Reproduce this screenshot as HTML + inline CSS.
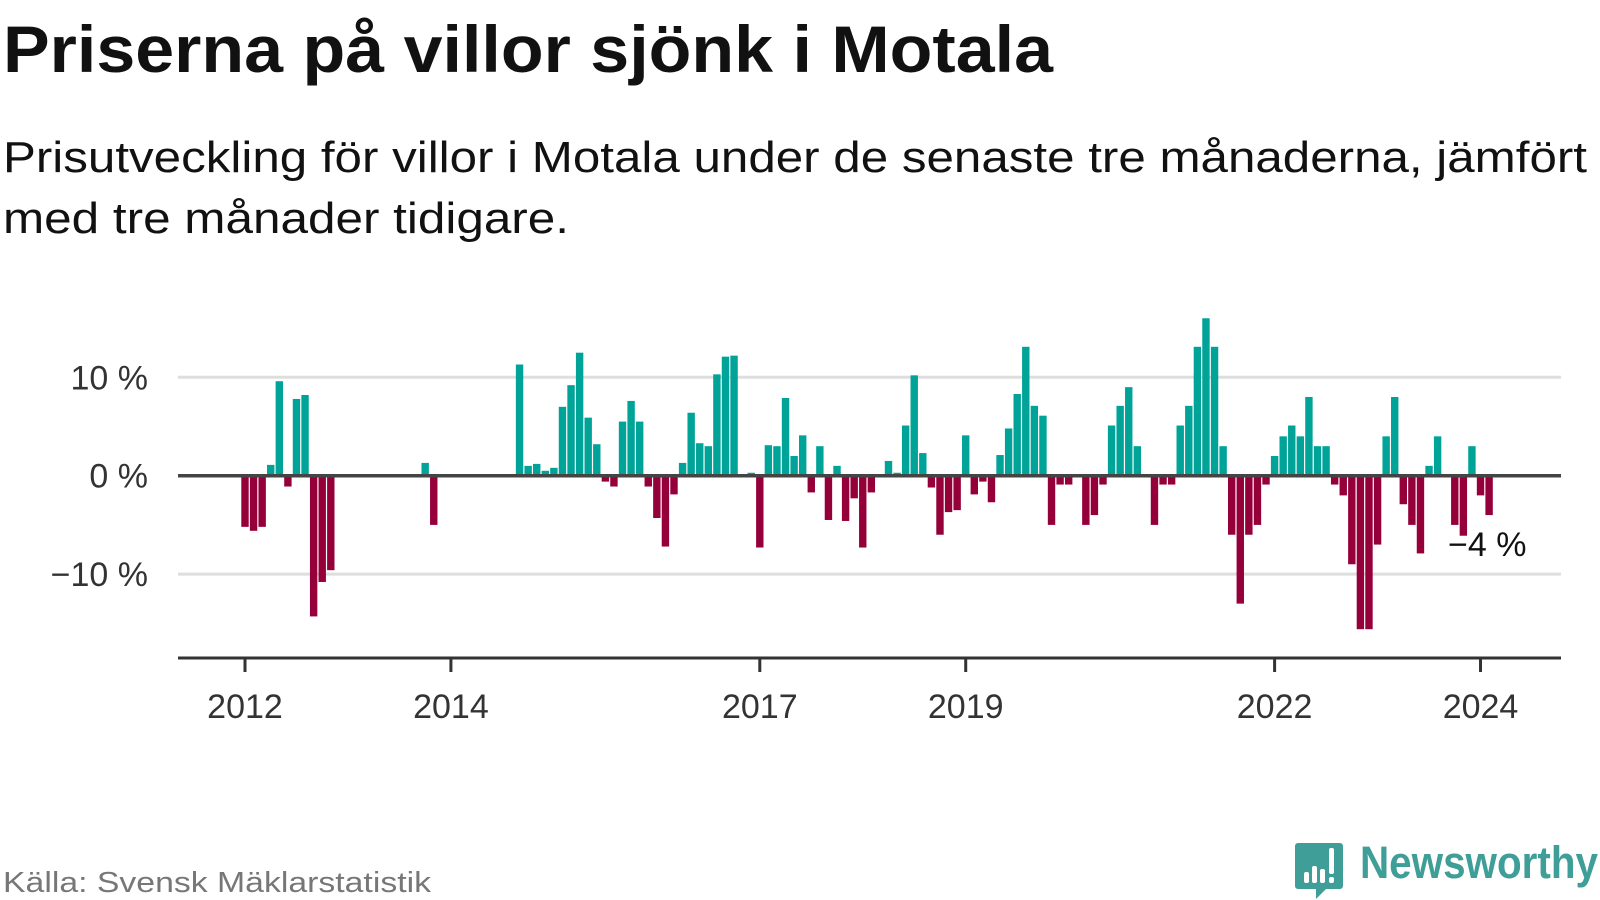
<!DOCTYPE html>
<html><head><meta charset="utf-8">
<style>
html,body{margin:0;padding:0;background:#fff;}
svg{display:block;font-family:"Liberation Sans",sans-serif;}
</style></head>
<body>
<svg id="chart" width="1600" height="900" viewBox="0 0 1600 900">
  <text x="3" y="72" font-size="66" font-weight="bold" fill="#111" textLength="1050" lengthAdjust="spacingAndGlyphs">Priserna på villor sjönk i Motala</text>
  <text x="3" y="172" font-size="44" fill="#111" textLength="1584" lengthAdjust="spacingAndGlyphs">Prisutveckling för villor i Motala under de senaste tre månaderna, jämfört</text>
  <text x="3" y="233" font-size="44" fill="#111" textLength="566" lengthAdjust="spacingAndGlyphs">med tre månader tidigare.</text>
  <g id="grid"></g>
  <g id="yaxis"></g>
  <g id="bars"></g>
  <g id="xaxis"></g>
  <text x="1448" y="556" font-size="34" fill="#111">−4 %</text>
  <text x="3" y="892" font-size="29" fill="#777" textLength="428" lengthAdjust="spacingAndGlyphs">Källa: Svensk Mäklarstatistik</text>
  <g>
    <path d="M1298 843 h42 a3 3 0 0 1 3 3 v40 a3 3 0 0 1 -3 3 h-14 l-10 10 v-10 h-18 a3 3 0 0 1 -3 -3 v-40 a3 3 0 0 1 3 -3z" fill="#3f9e97"/>
    <rect x="1304" y="872" width="5" height="11" rx="2" fill="#fff"/>
    <rect x="1312" y="866" width="5" height="17" rx="2" fill="#fff"/>
    <rect x="1320" y="869" width="5" height="14" rx="2" fill="#fff"/>
    <rect x="1329" y="848" width="5" height="26" rx="2" fill="#fff"/>
    <rect x="1329" y="877" width="5" height="6" rx="2" fill="#fff"/>
    <text x="1360" y="878" font-size="45" font-weight="bold" fill="#3f9e97" textLength="238" lengthAdjust="spacingAndGlyphs">Newsworthy</text>
  </g>
</svg>
<script>
// Monthly values (%), starting Jan 2012; null = no data
const values = [
-5.2,-5.6,-5.2,1.1,9.6,-1.1,7.8,8.2,-14.3,-10.8,-9.6,
null,null,null,null,null,null,null,null,null,null,
1.3,-5.0,
null,null,null,null,null,null,null,null,null,
11.3,1.0,1.2,0.5,0.8,7.0,9.2,12.5,5.9,3.2,-0.6,-1.1,5.5,7.6,5.5,-1.1,-4.3,-7.2,-1.9,1.3,6.4,3.3,3.0,10.3,12.1,12.2,null,0.3,-7.3,3.1,3.0,7.9,2.0,4.1,-1.7,3.0,-4.5,1.0,-4.6,-2.3,-7.3,-1.7,null,1.5,0.3,5.1,10.2,2.3,-1.2,-6.0,-3.7,-3.5,4.1,-1.9,-0.6,-2.7,2.1,4.8,8.3,13.1,7.1,6.1,-5.0,-0.9,-0.9,null,-5.0,-4.0,-0.9,5.1,7.1,9.0,3.0,null,-5.0,-0.9,-0.9,5.1,7.1,13.1,16.0,13.1,3.0,-6.0,-13.0,-6.0,-5.0,-0.9,2.0,4.0,5.1,4.0,8.0,3.0,3.0,-0.9,-2.0,-9.0,-15.6,-15.6,-7.0,4.0,8.0,-2.9,-5.0,-7.9,1.0,4.0,null,-5.0,-6.1,3.0,-2.0,-4.0
];
const startYear = 2012;
const yTicks = [10, 0, -10];
const yTickLabels = ["10 %", "0 %", "−10 %"];
const xTickYears = [2012, 2014, 2017, 2019, 2022, 2024];
const xTickLabels = ["2012", "2014", "2017", "2019", "2022", "2024"];

const NS = "http://www.w3.org/2000/svg";
const X0 = 245, MONTH = 8.58, BARW = 7.4;
const Y0 = 475.7, PER = 9.84;
const plotLeft = 178, plotRight = 1561, axisY = 658;
function xMonth(i){ return X0 + i * MONTH; }
function xYear(y){ return X0 + (y - startYear) * 12 * MONTH; }
function yVal(v){ return Y0 - v * PER; }
function mk(tag, attrs){ const e = document.createElementNS(NS, tag); for (const k in attrs) e.setAttribute(k, attrs[k]); return e; }

const grid = document.getElementById('grid');
const yaxis = document.getElementById('yaxis');
yTicks.forEach((t, k) => {
  if (t !== 0) {
    const l = mk('line', {x1: plotLeft, x2: plotRight, y1: yVal(t), y2: yVal(t), stroke: '#dedede', 'stroke-width': 3});
    
    
    grid.appendChild(l);
  }
  const tx = mk('text', {x: 148, y: yVal(t) + 12, 'text-anchor': 'end', 'font-size': 34, fill: '#333'});
  tx.textContent = yTickLabels[k];
  
  
  yaxis.appendChild(tx);
});

const bars = document.getElementById('bars');
values.forEach((v, i) => {
  if (v === null) return;
  const y = v >= 0 ? yVal(v) : Y0;
  const h = Math.abs(v) * PER;
  const r = mk('rect', {x: xMonth(i) - BARW / 2, y: y, width: BARW, height: Math.max(h, 0.5), fill: v >= 0 ? '#00a398' : '#96003a'});
  
  
  bars.appendChild(r);
});
const zl = mk('line', {x1: plotLeft, x2: plotRight, y1: Y0, y2: Y0, stroke: '#444', 'stroke-width': 3.5});


bars.appendChild(zl);

const xaxis = document.getElementById('xaxis');
const al = mk('line', {x1: plotLeft, x2: plotRight, y1: axisY, y2: axisY, stroke: '#333', 'stroke-width': 3});


xaxis.appendChild(al);
xTickYears.forEach((yr, k) => {
  const x = xYear(yr);
  const t = mk('line', {x1: x, x2: x, y1: axisY, y2: axisY + 14, stroke: '#333', 'stroke-width': 3});
  
  
  xaxis.appendChild(t);
  const tx = mk('text', {x: x, y: 718, 'text-anchor': 'middle', 'font-size': 34, fill: '#333'});
  tx.textContent = xTickLabels[k];
  
  
  xaxis.appendChild(tx);
});
</script>
</body></html>
